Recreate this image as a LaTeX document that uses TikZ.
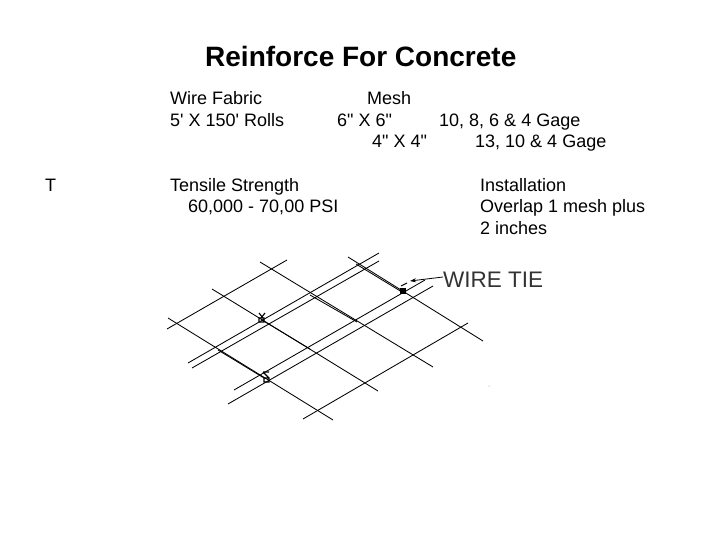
\documentclass[tikz,border=0pt]{standalone}
\usepackage{fontspec}
\newfontfamily\slidefont{Liberation Sans}
\usetikzlibrary{arrows.meta}
\tikzset{
    bodytext/.style={font=\slidefont\fontsize{18}{18}\selectfont, anchor=base west, inner sep=0pt},
    titletext/.style={font=\slidefont\fontsize{28}{28}\selectfont\bfseries, anchor=base west, inner sep=0pt},
    tietext/.style={font=\slidefont\fontsize{22.5}{22.5}\selectfont, anchor=base west, inner sep=0pt, text=black!80},
    wire/.style={draw=black, line width=0.85pt},
    tie/.style={draw=black, line width=1.1pt},
}
\begin{document}
\begin{tikzpicture}[x=1pt, y=-1pt]
    \useasboundingbox (0,0) rectangle (720,540);

    % Title
    \node[titletext] (title) at (205,67) {Reinforce For Concrete};

    % Upper row
    \node[bodytext] (fabric) at (170,105) {Wire Fabric};
    \node[bodytext] (rolls) at (170,127) {5' X 150' Rolls};
    \node[bodytext] (mesh) at (367,105) {Mesh};
    \node[bodytext] (six) at (337,127) {6" X 6"};
    \node[bodytext] (sixgage) at (439,127) {10, 8, 6 \& 4 Gage};
    \node[bodytext] (four) at (372,148) {4" X 4"};
    \node[bodytext] (fourgage) at (475,148) {13, 10 \& 4 Gage};

    % Lower row
    \node[bodytext] (tee) at (45,192) {T};
    \node[bodytext] (tensile) at (170,192) {Tensile Strength};
    \node[bodytext] (psi) at (188,213) {60,000 - 70,00 PSI};
    \node[bodytext] (install) at (480,192) {Installation};
    \node[bodytext] (overlap) at (480,213) {Overlap 1 mesh plus};
    \node[bodytext] (inches) at (480,235) {2 inches};

    % Mesh, wires going up to the right
    \foreach \xa/\ya/\xb/\yb in {167/329/287/260, 188/363/379/253, 192/368/379/261,
                                 234/390/425/280, 228/404/433/286, 303/419/468/323}
        \draw[wire] (\xa,\ya) -- (\xb,\yb);

    % Mesh, wires going down to the right
    \foreach \xa/\ya/\xb/\yb in {260/262/433/367, 348/257/483/341,
                                 212/289/378/391, 168/318/333/420}
        \draw[wire] (\xa,\ya) -- (\xb,\yb);

    % Lapped stretches
    \foreach \xa/\ya/\xb/\yb in {310/295/357/322, 356/264/402/292,
                                 262/320/310/349, 218/350/264/378}
        \draw[wire] (\xa,\ya) -- (\xb,\yb);

    % Wire ties
    \draw[tie] (259,313) -- (263,318) (265,313) -- (261,318) (259,318) rectangle (264,322);
    \draw[tie] (263,372) -- (269,372) (263,372) -- (269,378) (264,378) rectangle (269,382);
    \draw[tie, fill=black] (401,289) rectangle (405,293);
    \draw[tie] (401,286) -- (407,283);
    \fill[black!50] (489,386) circle (0.5);

    % Callout
    \node[tietext] (wiretie) at (443,287) {WIRE TIE};
    \coordinate (tiepoint) at (410,281);
    \draw[-{Stealth[length=6pt,width=4pt]}, black, line width=0.8pt] (wiretie.west |- 0,277) -- (tiepoint);
\end{tikzpicture}
\end{document}
